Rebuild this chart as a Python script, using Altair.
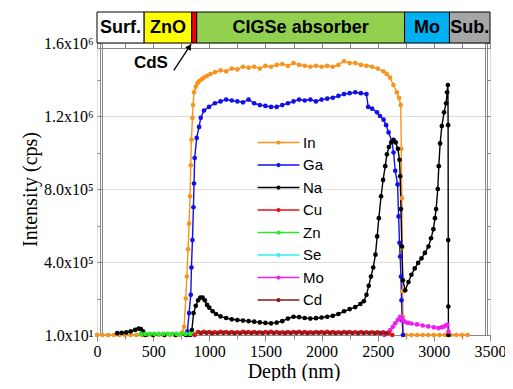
import altair as alt
import pandas as pd

# ---------------- data ----------------
legend_order = ["In", "Ga", "Na", "Cu", "Zn", "Se", "Mo", "Cd"]
legend_colors = ["#F7931E", "#1010E8", "#000000", "#E8101A", "#2EE62E", "#33F0F0", "#F01EF0", "#8B1A1A"]

se_x = [0, 100, 200, 300, 400, 500, 600, 700]
se_y = [10, 10, 10, 10, 10, 10, 10, 10]

in_x = [0, 50, 100, 150, 200, 250, 300, 350, 400, 450, 500, 550, 600, 650, 700, 740,
        760, 775, 791, 800, 811, 820, 829, 835, 841, 850, 855, 864, 879, 895, 909,
        930, 950, 980, 1010, 1050, 1100, 1150, 1200, 1250, 1300, 1350, 1400, 1450, 1500, 1550, 1600,
        1650, 1700, 1750, 1800, 1850, 1900, 1950, 2000, 2050, 2100, 2150, 2200, 2250, 2300, 2350, 2400,
        2450, 2500, 2550, 2580, 2610, 2640, 2670, 2690, 2705, 2710, 2715, 2718, 2722, 2725, 2730,
        2750, 2800, 2850, 2900, 2950, 3000, 3050, 3100, 3150, 3200, 3250, 3300]
in_y = [10, 10, 10, 10, 10, 10, 10, 10, 10, 10, 10, 10, 10, 10, 10, 10,
        1.5e4, 4.5e4, 2.0e5, 3.2e5, 4.7e5, 6.1e5, 7.6e5, 9.3e5, 1.07e6, 1.19e6, 1.26e6, 1.33e6, 1.36e6, 1.38e6, 1.39e6,
        1.40e6, 1.41e6, 1.42e6, 1.43e6, 1.44e6, 1.45e6, 1.445e6, 1.46e6, 1.455e6, 1.47e6, 1.465e6, 1.47e6, 1.46e6, 1.475e6, 1.47e6, 1.48e6,
        1.485e6, 1.475e6, 1.49e6, 1.48e6, 1.475e6, 1.47e6, 1.475e6, 1.47e6, 1.475e6, 1.47e6, 1.48e6, 1.50e6, 1.49e6, 1.49e6, 1.48e6, 1.475e6,
        1.47e6, 1.46e6, 1.445e6, 1.43e6, 1.41e6, 1.37e6, 1.33e6, 1.30e6, 1.26e6, 1.02e6, 7.5e5, 4.8e5, 2.4e5, 1.0e5, 10,
        10, 10, 10, 10, 10, 10, 10, 10, 10, 10, 10, 10]

ga_x = [790, 805, 820, 835, 841, 850, 859, 864, 870, 888, 909, 924, 953, 998,
        1050, 1100, 1150, 1200, 1250, 1300, 1350, 1400, 1450, 1500, 1550, 1600, 1650, 1700, 1750, 1800,
        1850, 1900, 1950, 2000, 2050, 2100, 2150, 2200, 2250, 2300, 2350, 2400, 2415, 2450, 2494, 2520,
        2552, 2575, 2597, 2627, 2641, 2656, 2677, 2686, 2694, 2700, 2707, 2712, 2718, 2725]
ga_y = [10, 2e4, 1.2e5, 2.2e5, 3.7e5, 5.2e5, 7.0e5, 8.3e5, 9.7e5, 1.08e6, 1.14e6, 1.19e6, 1.23e6, 1.25e6,
        1.27e6, 1.28e6, 1.29e6, 1.285e6, 1.28e6, 1.275e6, 1.29e6, 1.27e6, 1.26e6, 1.255e6, 1.25e6, 1.25e6, 1.26e6, 1.27e6, 1.28e6, 1.29e6,
        1.285e6, 1.29e6, 1.28e6, 1.29e6, 1.295e6, 1.30e6, 1.31e6, 1.32e6, 1.325e6, 1.33e6, 1.325e6, 1.32e6, 1.25e6, 1.24e6, 1.22e6, 1.20e6,
        1.18e6, 1.15e6, 1.11e6, 1.06e6, 1.0e6, 9.0e5, 8.25e5, 6.5e5, 5.05e5, 4.3e5, 3.2e5, 1.9e5, 8e4, 10]

na_x = [180, 220, 260, 300, 340, 370, 390, 410, 430, 500, 600, 700, 800, 830,
        845, 860, 880, 900, 920, 940, 960, 980, 1000, 1030, 1060, 1100, 1150, 1200, 1250, 1300,
        1350, 1400, 1450, 1500, 1550, 1600, 1650, 1700, 1750, 1800, 1850, 1900, 1950, 2000, 2050, 2100,
        2150, 2200, 2250, 2300, 2345, 2376, 2400, 2420, 2440, 2460, 2480, 2495, 2510, 2530, 2548, 2567,
        2582, 2600, 2620, 2641, 2660, 2680, 2694, 2700, 2707, 2715, 2724, 2745, 2774, 2800, 2830, 2860,
        2890, 2920, 2952, 2975, 2996, 3010, 3020, 3035, 3044, 3056, 3071, 3091, 3109, 3118, 3125, 3127, 3128, 3129, 3130]
na_y = [1e4, 1.2e4, 1.4e4, 2e4, 2.8e4, 3.5e4, 3.3e4, 2e4, 10, 10, 10, 10, 10, 10,
        2.7e4, 1.2e5, 1.6e5, 1.9e5, 2.05e5, 2.05e5, 1.9e5, 1.65e5, 1.5e5, 1.3e5, 1.15e5, 1.02e5, 9.3e4, 8.6e4, 8.2e4, 7.9e4,
        7.6e4, 7.3e4, 6.9e4, 6.6e4, 6.4e4, 6.8e4, 7.6e4, 9.0e4, 1.0e5, 9.8e4, 9.3e4, 9.0e4, 9.2e4, 9.6e4, 1.0e5, 1.05e5,
        1.15e5, 1.3e5, 1.42e5, 1.53e5, 1.7e5, 1.85e5, 2.2e5, 2.7e5, 3.2e5, 3.7e5, 4.4e5, 5.4e5, 6.4e5, 7.6e5, 8.5e5, 9.25e5,
        9.9e5, 1.03e6, 1.055e6, 1.07e6, 1.055e6, 1.02e6, 9.6e5, 8.7e5, 6.9e5, 4.85e5, 3.0e5, 2.45e5, 2.9e5, 3.3e5, 3.65e5, 3.95e5,
        4.2e5, 4.5e5, 4.85e5, 5.3e5, 5.8e5, 6.4e5, 6.9e5, 8.0e5, 9.25e5, 1.05e6, 1.145e6, 1.22e6, 1.27e6, 1.33e6, 1.37e6, 1.15e6, 5.2e5, 1.56e5, 10]

zn_x = [390, 430, 470, 510, 550, 590, 630, 670, 710, 750, 790, 830, 870]
zn_y = [6e3, 6e3, 6e3, 6e3, 6e3, 6e3, 6e3, 6e3, 6e3, 6e3, 6e3, 6e3, 6e3]

mo_x = [2560, 2590, 2612, 2635, 2656, 2680, 2700, 2712, 2725, 2740, 2770, 2800, 2850, 2900, 2950, 3000,
        3040, 3070, 3090, 3110, 3120, 3130]
mo_y = [10, 1.2e4, 2.7e4, 4.5e4, 6.4e4, 8.3e4, 1.0e5, 9.5e4, 8.0e4, 7.3e4, 6.6e4, 6.3e4, 5.8e4, 5.2e4, 4.7e4, 4.2e4,
        3.8e4, 4.2e4, 4.6e4, 5.3e4, 5.5e4, 1.8e4]

cu_x = [870, 900, 950, 1000, 1050, 1100, 1150, 1200, 1250, 1300, 1350, 1400, 1450, 1500, 1550, 1600, 1650,
        1700, 1750, 1800, 1850, 1900, 1950, 2000, 2050, 2100, 2150, 2200, 2250, 2300, 2350, 2400, 2450,
        2500, 2550, 2600, 2630]
cu_y = [10, 1.6e4, 1.7e4, 1.6e4, 1.5e4, 1.7e4, 1.6e4, 1.6e4, 1.5e4, 1.7e4, 1.6e4, 1.6e4, 1.5e4, 1.6e4, 1.7e4, 1.6e4, 1.5e4,
        1.6e4, 1.6e4, 1.7e4, 1.6e4, 1.5e4, 1.6e4, 1.6e4, 1.7e4, 1.6e4, 1.5e4, 1.6e4, 1.6e4, 1.5e4, 1.6e4, 1.5e4, 1.5e4,
        1.4e4, 1.4e4, 1.2e4, 10]

cd_x = [925, 975, 1025, 1075, 1125, 1175, 1225, 1275, 1325, 1375, 1425, 1475, 1525, 1575, 1625, 1675, 1725,
        1775, 1825, 1875, 1925, 1975, 2025, 2075, 2125, 2175, 2225, 2275, 2325, 2375, 2425, 2475, 2525, 2575]
cd_y = [1.1e4, 1.2e4, 1.0e4, 1.1e4, 1.2e4, 1.1e4, 1.0e4, 1.1e4, 1.2e4, 1.1e4, 1.1e4, 1.0e4, 1.2e4, 1.1e4, 1.1e4, 1.0e4, 1.1e4,
        1.2e4, 1.1e4, 1.0e4, 1.1e4, 1.2e4, 1.1e4, 1.1e4, 1.0e4, 1.1e4, 1.2e4, 1.1e4, 1.0e4, 1.1e4, 1.1e4, 1.0e4, 1.0e4, 9e3]

# layer band on top of the plot
band_labels = ["Surf.", "ZnO", "", "CIGSe absorber", "Mo", "Sub."]
band_start = [0, 420, 844, 888, 2739, 3139]
band_end = [420, 844, 888, 2739, 3139, 3500]
band_colors = ["#FFFFFF", "#FFFF00", "#F00000", "#92D050", "#00B0F0", "#A6A6A6"]

# axis ticks
x_major = [0, 500, 1000, 1500, 2000, 2500, 3000, 3500]
x_minor = [250, 750, 1250, 1750, 2250, 2750, 3250]
x_all = [0, 250, 500, 750, 1000, 1250, 1500, 1750, 2000, 2250, 2500, 2750, 3000, 3250, 3500]
y_tick_values = [10, 400000, 800000, 1200000, 1600000]
y_tick_labels = ["1.0x10\u00b9", "4.0x10\u2075", "8.0x10\u2075", "1.2x10\u2076", "1.6x10\u2076"]
y_minor = [200000, 600000, 1000000, 1400000]

# CdS annotation
cds_text_x, cds_text_y = [480], [1.49e6]
arrow_x, arrow_y, arrow_x2, arrow_y2 = [684], [1.45e6], [838], [1.594e6]
head_x, head_y = [824], [1.58e6]

# ---------------- build ----------------
draw_order = [("Se", se_x, se_y), ("In", in_x, in_y), ("Ga", ga_x, ga_y), ("Na", na_x, na_y),
              ("Zn", zn_x, zn_y), ("Mo", mo_x, mo_y), ("Cu", cu_x, cu_y), ("Cd", cd_x, cd_y)]
rows = []
for name, xs, ys in draw_order:
    assert len(xs) == len(ys), name
    for a, b in zip(xs, ys):
        rows.append({"element": name, "depth": a, "intensity": b})
df = pd.DataFrame(rows)

band_df = pd.DataFrame({"label": band_labels, "start": band_start, "end": band_end, "color": band_colors})
band_df["mid"] = (band_df["start"] + band_df["end"]) / 2

XD = [0, 3500]
YD = [10, 1600000]
serif = "Liberation Serif"
sans = "Liberation Sans"

xscale = alt.Scale(domain=XD, nice=False, zero=False)
yscale = alt.Scale(domain=YD, nice=False, zero=False)

label_expr = " : ".join(f"datum.value == {v} ? '{l}'" for v, l in zip(y_tick_values, y_tick_labels)) + " : ''"

sym_path = "M-3.8,0L3.8,0M-0.25,0A0.25,0.25,0,1,1,0.25,0A0.25,0.25,0,1,1,-0.25,0Z"

color = alt.Color("element:N", scale=alt.Scale(domain=legend_order, range=legend_colors),
                  legend=alt.Legend(title=None, orient="none", legendX=174, legendY=92,
                                    symbolType=sym_path, symbolSize=121, symbolStrokeWidth=1.5,
                                    labelFont=sans, labelFontSize=15, labelOffset=17,
                                    rowPadding=6.5, padding=0, labelColor="black"))
color_nolegend = alt.Color("element:N", scale=alt.Scale(domain=legend_order, range=legend_colors), legend=None)

lines = alt.Chart(df).mark_line(strokeWidth=1.4).encode(
    x=alt.X("depth:Q", scale=xscale,
            axis=alt.Axis(orient="bottom", values=x_major, format="d", tickSize=6, labelFont=serif,
                          labelFontSize=16, labelPadding=2, labelFlush=False, title="Depth (nm)", titleFont=serif,
                          titleFontSize=20, titleFontWeight="normal", titlePadding=2)),
    y=alt.Y("intensity:Q", scale=yscale,
            axis=alt.Axis(orient="left", values=y_tick_values, labelExpr=label_expr, offset=-5, tickSize=5,
                          labelPadding=4, labelFlush=False, labelFont=serif, labelFontSize=16, title="Intensity (cps)",
                          titleFont=serif, titleFontSize=20, titleFontWeight="normal", titlePadding=3)),
    color=color,
)

points = alt.Chart(df).mark_circle(size=22, opacity=1).encode(
    x=alt.X("depth:Q", scale=xscale,
            axis=alt.Axis(orient="bottom", values=x_minor, tickSize=4, labels=False, title=None)),
    y=alt.Y("intensity:Q", scale=yscale,
            axis=alt.Axis(orient="left", values=y_minor, offset=-3, tickSize=3, labels=False, title=None)),
    color=color_nolegend,
)

band = alt.Chart(band_df).mark_rect(stroke="black", strokeWidth=1).encode(
    x=alt.X("start:Q", scale=xscale, axis=None),
    x2="end:Q",
    y=alt.value(-31), y2=alt.value(0),
    fill=alt.Fill("color:N", scale=None),
)
band_text = alt.Chart(band_df).transform_filter("datum.label != ''").mark_text(
    font=sans, fontWeight="bold", fontSize=18, color="black", baseline="middle", align="center"
).encode(
    x=alt.X("mid:Q", scale=xscale, axis=None),
    y=alt.value(-15),
    text="label:N",
)

arrow_df = pd.DataFrame({"x": arrow_x, "y": arrow_y, "x2": arrow_x2, "y2": arrow_y2})
arrow = alt.Chart(arrow_df).mark_rule(color="black", strokeWidth=1.3).encode(
    x=alt.X("x:Q", scale=xscale,
            axis=alt.Axis(orient="top", values=x_all, offset=-5, tickSize=5, labels=False, title=None)),
    y=alt.Y("y:Q", scale=yscale,
            axis=alt.Axis(orient="right", values=y_tick_values, offset=-5, tickSize=5, labels=False, title=None)),
    x2="x2:Q", y2="y2:Q",
)
head = alt.Chart(pd.DataFrame({"x": head_x, "y": head_y})).mark_point(
    shape="triangle-up", filled=True, size=45, angle=33, color="black", opacity=1
).encode(
    x=alt.X("x:Q", scale=xscale, axis=None),
    y=alt.Y("y:Q", scale=yscale,
            axis=alt.Axis(orient="right", values=y_minor, offset=-3, tickSize=3, labels=False, title=None)),
)
cds = alt.Chart(pd.DataFrame({"x": cds_text_x, "y": cds_text_y, "t": ["CdS"]})).mark_text(
    font=sans, fontWeight="bold", fontSize=17, color="black", align="center", baseline="middle"
).encode(
    x=alt.X("x:Q", scale=xscale, axis=None),
    y=alt.Y("y:Q", scale=yscale, axis=None),
    text="t:N",
)

chart = alt.layer(band, band_text, lines, points, arrow, head, cds).resolve_axis(
    x="independent", y="independent"
).properties(
    width=393, height=292, autosize="none",
    padding={"left": 89, "top": 35, "right": 15, "bottom": 46},
).configure_view(stroke="black", strokeWidth=1.3).configure_axis(
    grid=False, domain=False, tickColor="black", tickWidth=1.2, labelColor="black", titleColor="black"
).configure(background="white")

chart.save("out.html", embed_options={"renderer": "svg", "actions": False})
